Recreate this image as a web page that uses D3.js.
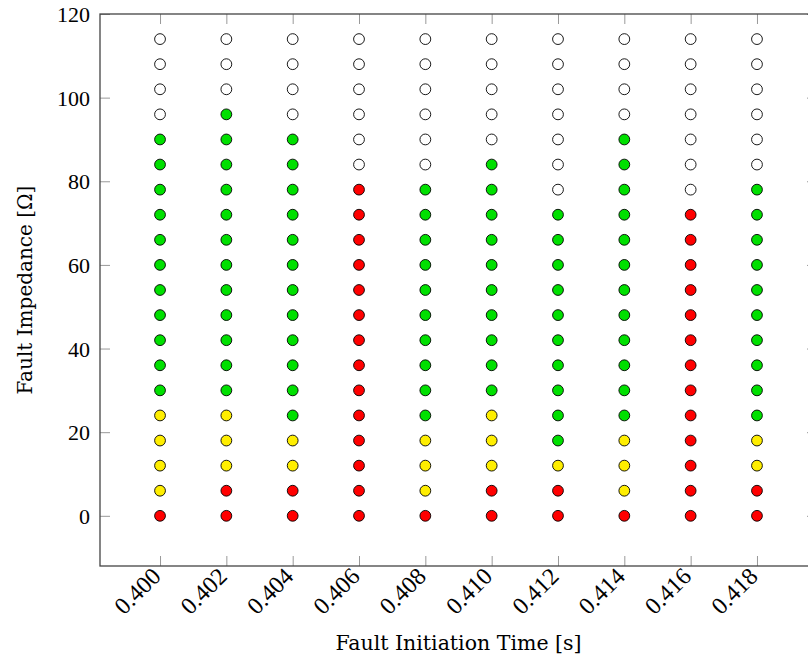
<!DOCTYPE html>
<html>
<head>
<meta charset="utf-8">
<script src="https://cdn.jsdelivr.net/npm/d3@7"></script>
<style>
    body { margin: 0; background: #fff; }
    text { fill: #000; }
</style>
</head>
<body>
<svg id="chart"></svg>
<script>
// fault initiation times (s)
var times = [0.400, 0.402, 0.404, 0.406, 0.408, 0.410, 0.412, 0.414, 0.416, 0.418];
// fault impedances (ohm)
var impedances = [0, 6, 12, 18, 24, 30, 36, 42, 48, 54, 60, 66, 72, 78, 84, 90, 96, 102, 108, 114];
// outcome per time, listed from 0 ohm upwards: R = red, Y = yellow, G = green, W = white
var outcomes = [
    'RYYYYGGGGGGGGGGGWWWW',
    'RRYYYGGGGGGGGGGGGWWW',
    'RRYYGGGGGGGGGGGGWWWW',
    'RRRRRRRRRRRRRRWWWWWW',
    'RYYYGGGGGGGGGGWWWWWW',
    'RRYYYGGGGGGGGGGWWWWW',
    'RRYGGGGGGGGGGWWWWWWW',
    'RYYYGGGGGGGGGGGGWWWW',
    'RRRRRRRRRRRRRWWWWWWW',
    'RRYYGGGGGGGGGGWWWWWW'
];
var xTicks = [0.400, 0.402, 0.404, 0.406, 0.408, 0.410, 0.412, 0.414, 0.416, 0.418];
var yTicks = [0, 20, 40, 60, 80, 100, 120];

var width = 808,
    height = 666;

var svg = d3.select('#chart').attr('width', width).attr('height', height);

var plotLeft = 100,
    plotTop = 14,
    plotRight = 817,
    plotBottom = 566;

var x = d3.scaleLinear().domain([0.39819, 0.41981]).range([plotLeft, plotRight]);
var y = d3.scaleLinear().domain([-12, 120]).range([plotBottom, plotTop]);

var color = d3
    .scaleOrdinal()
    .domain(['R', 'Y', 'G', 'W'])
    .range(['#ff0000', '#ffee00', '#00e000', '#ffffff']);

var points = [];
times.forEach(function(t, i) {
    impedances.forEach(function(z, j) {
        points.push({ t: t, z: z, c: outcomes[i][j] });
    });
});

var tickLen = 10;

// ticks pointing inwards on all four sides
var axisBottom = d3.axisBottom(x).tickValues(xTicks).tickSize(-tickLen).tickFormat(d3.format('.3f'));
var axisTop = d3.axisTop(x).tickValues(xTicks).tickSize(-tickLen).tickFormat('');
var axisLeft = d3.axisLeft(y).tickValues(yTicks).tickSize(-tickLen).tickFormat(d3.format('d'));
var axisRight = d3.axisRight(y).tickValues(yTicks).tickSize(-tickLen).tickFormat('');

var gx = svg.append('g').attr('transform', 'translate(0,' + plotBottom + ')').call(axisBottom);
svg.append('g').attr('transform', 'translate(0,' + plotTop + ')').call(axisTop);
var gy = svg.append('g').attr('transform', 'translate(' + plotLeft + ',0)').call(axisLeft);
svg.append('g').attr('transform', 'translate(' + plotRight + ',0)').call(axisRight);

svg.selectAll('.domain').remove();
svg.selectAll('.tick line').attr('stroke', '#999').attr('stroke-width', 1);

// frame
svg.append('rect')
    .attr('x', plotLeft)
    .attr('y', plotTop)
    .attr('width', plotRight - plotLeft)
    .attr('height', plotBottom - plotTop)
    .attr('fill', 'none')
    .attr('stroke', '#444')
    .attr('stroke-width', 1.3);

gx.selectAll('.tick text')
    .style('font-size', '24px')
    .style('font-family', '"Liberation Serif", serif')
    .attr('text-anchor', 'end')
    .attr('dy', null)
    .attr('y', null)
    .attr('dominant-baseline', 'central')
    .attr('transform', 'translate(-4,6) rotate(-45)');

gy.selectAll('.tick text')
    .style('font-size', '22px')
    .style('font-family', '"Liberation Serif", serif')
    .attr('x', -10)
    .attr('dy', '0.35em');

// markers
svg.append('g')
    .selectAll('circle')
    .data(points)
    .enter()
    .append('circle')
    .attr('cx', function(d) {
        return x(d.t);
    })
    .attr('cy', function(d) {
        return y(d.z);
    })
    .attr('r', 5.4)
    .attr('fill', function(d) {
        return color(d.c);
    })
    .attr('stroke', '#000')
    .attr('stroke-width', 0.9);

// axis titles
svg.append('text')
    .attr('x', (plotLeft + plotRight) / 2)
    .attr('y', 650)
    .attr('text-anchor', 'middle')
    .style('font-size', '20.5px')
    .style('font-family', '"DejaVu Serif", serif')
    .text('Fault Initiation Time [s]');

svg.append('text')
    .attr('transform', 'translate(32,' + (plotTop + plotBottom) / 2 + ') rotate(-90)')
    .attr('text-anchor', 'middle')
    .style('font-size', '20px')
    .style('font-family', '"DejaVu Serif", serif')
    .text('Fault Impedance [Ω]');
</script>
</body>
</html>
